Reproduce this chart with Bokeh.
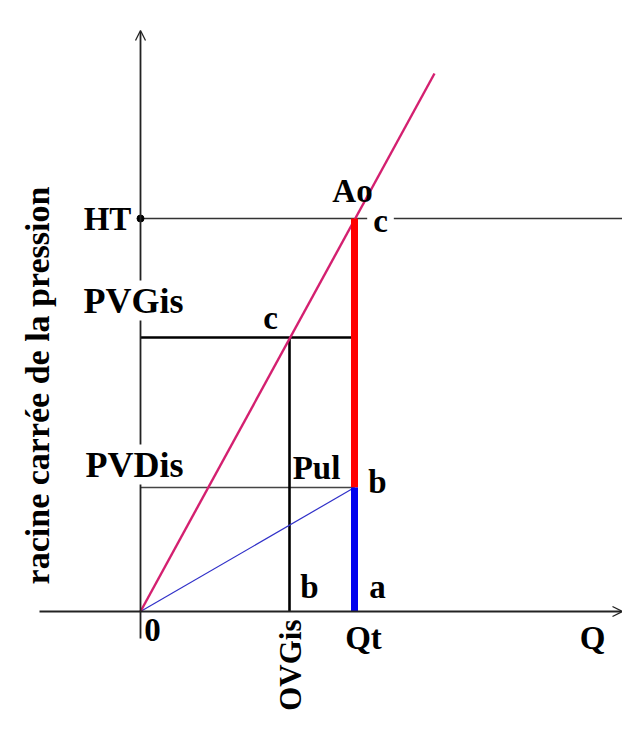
import math
from bokeh.plotting import figure
from bokeh.models import Range1d, Label, Arrow, OpenHead
from bokeh.embed import file_html
from bokeh.resources import INLINE

# ---- diagram values (schematic units) ----
Q_T = 2.14          # Qt : débit total
Q_VGIS = 1.49       # OVGis
H_T = 3.93          # HT
P_VGIS = 2.74       # PVGis
P_VDIS = 1.24       # PVDis
char_x = [0.0, 2.94]    # characteristic line (magenta)
char_y = [0.0, 5.38]
x_axis = [-1.01, 4.82]
y_axis = [-0.27, 5.81]
ht_end = 5.0

FONT = "Liberation Serif"

p = figure(width=622, height=713, output_backend="svg", toolbar_location=None,
           x_range=Range1d(-1.40, 4.82), y_range=Range1d(-1.02, 6.11),
           min_border=0, outline_line_color=None)
p.axis.visible = False
p.grid.visible = False
p.background_fill_color = "white"
p.border_fill_color = "white"

# axes with arrows
p.add_layout(Arrow(x_start=x_axis[0], y_start=0, x_end=x_axis[1], y_end=0,
                   line_width=1.8, line_color="#222222",
                   end=OpenHead(size=10, line_width=1.3, line_color="#222222")))
p.add_layout(Arrow(x_start=0, y_start=y_axis[0], x_end=0, y_end=y_axis[1],
                   line_width=1.8, line_color="#222222",
                   end=OpenHead(size=10, line_width=1.3, line_color="#222222")))

# HT horizontal line
p.line([0, ht_end], [H_T, H_T], line_color="#333333", line_width=1.5)
# PVDis horizontal line
p.line([0, Q_T], [P_VDIS, P_VDIS], line_color="#444444", line_width=1.5)
# PVGis horizontal + OVGis vertical
p.line([0, Q_T], [P_VGIS, P_VGIS], line_color="black", line_width=2.6)
p.line([Q_VGIS, Q_VGIS], [0, P_VGIS], line_color="black", line_width=2.6)
# thin blue line
p.line([0, Q_T], [0, P_VDIS], line_color="#3030c8", line_width=1.2)
# magenta characteristic
p.line(char_x, char_y, line_color="#d42070", line_width=2.4)
# thick red and blue segments at Qt
p.line([Q_T, Q_T], [P_VDIS, H_T], line_color="#ff0000", line_width=7)
p.line([Q_T, Q_T], [0, P_VDIS], line_color="#0000ee", line_width=7)
# HT point
p.scatter([0], [H_T], size=7, color="black")

def lab(text, x, y, dx, dy, size=33, bg=False, angle=0.0, align="center", pad=0):
    kw = {}
    if bg:
        kw = dict(background_fill_color="white", background_fill_alpha=1.0, padding=pad)
    p.add_layout(Label(x=x, y=y, x_offset=dx, y_offset=dy, text=text,
                       text_font=FONT, text_font_style="bold",
                       text_font_size=f"{size}px", text_color="black",
                       text_align=align, text_baseline="alphabetic",
                       angle=angle, angle_units="rad", **kw))

lab("c", Q_T, H_T, 26, -2, bg=True, pad=6)
lab("HT", 0, H_T, -33, 0)
lab("Ao", Q_T, H_T, -2, 28)
lab("PVGis", 0, P_VGIS, -7, 37, size=36, bg=True, pad=0)
lab("c", Q_VGIS, P_VGIS, -19, 20)
lab("PVDis", 0, P_VDIS, -6, 23, size=36, bg=True, pad=0)
lab("Pul", Q_VGIS, P_VDIS, 27, 20)
lab("b", Q_T, P_VDIS, 23, 6)
lab("b", Q_VGIS, 0, 20, 25)
lab("a", Q_T, 0, 23, 25)
lab("Qt", Q_T, 0, 9, -26)
lab("Q", x_axis[1], 0, -30, -26)
lab("0", 0, 0, 12, -18)
lab("OVGis", Q_VGIS, 0, 1, -8, size=31, angle=math.pi / 2, align="right")
lab("racine carrée de la pression", -1.03, 2.26, 0, 0, size=34, angle=math.pi / 2)

open("out.html", "w").write(file_html(p, INLINE))
